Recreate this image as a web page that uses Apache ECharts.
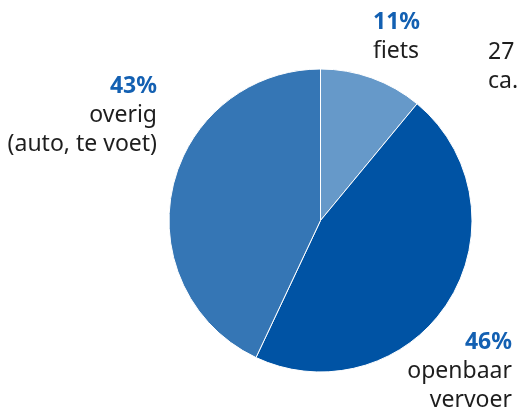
<!DOCTYPE html>
<html><head><meta charset="utf-8">
<script src="https://cdn.jsdelivr.net/npm/echarts@6/dist/echarts.min.js"></script>
<style>html,body{margin:0;padding:0;background:#fff}#c{width:518px;height:409px}</style>
</head><body><div id="c"></div>
<script>
const categories = ['fiets', 'openbaar\nvervoer', 'overig\n(auto, te voet)'];
const shares = [11, 46, 43];
const sliceColors = ['#6699C9', '#0053A4', '#3576B5'];
const sideNote = ['27', 'ca.'];

const labelPos = [
  {x: 373, y: 8, align: 'left'},
  {x: 512, y: 328, align: 'right'},
  {x: 157, y: 72, align: 'right'}
];
const FONT = '"Noto Sans", sans-serif';

const chart = echarts.init(document.getElementById('c'));
chart.setOption({
  animation: false,
  backgroundColor: '#fff',
  graphic: [{
    type: 'text', left: 488, top: 38,
    style: {text: sideNote.join('\n'), fontFamily: FONT, fontSize: 23, fill: '#1e1e1e', lineHeight: 29}
  }],
  series: [{
    type: 'pie',
    center: [320.5, 220.5],
    radius: [0, 151.5],
    startAngle: 90,
    clockwise: true,
    avoidLabelOverlap: false,
    itemStyle: {borderColor: '#fff', borderWidth: 1},
    labelLine: {show: false},
    label: {
      show: true,
      position: 'outside',
      overflow: 'none',
      formatter: p => '{p|' + p.value + '%}\n{n|' + p.name.split('\n').join('}\n{n|') + '}',
      rich: {
        p: {fontFamily: FONT, fontSize: 23, fontWeight: 'bold', color: '#1360B2', lineHeight: 29},
        n: {fontFamily: FONT, fontSize: 23, color: '#1e1e1e', lineHeight: 29}
      }
    },
    labelLayout: params => {
      const lp = labelPos[params.dataIndex];
      return {x: lp.x, y: lp.y, align: lp.align, verticalAlign: 'top', hideOverlap: false};
    },
    data: categories.map((c, i) => ({name: c, value: shares[i], itemStyle: {color: sliceColors[i]},
      label: {align: labelPos[i].align, rich: {p: {align: labelPos[i].align}, n: {align: labelPos[i].align}}}}))
  }]
});
</script></body></html>
